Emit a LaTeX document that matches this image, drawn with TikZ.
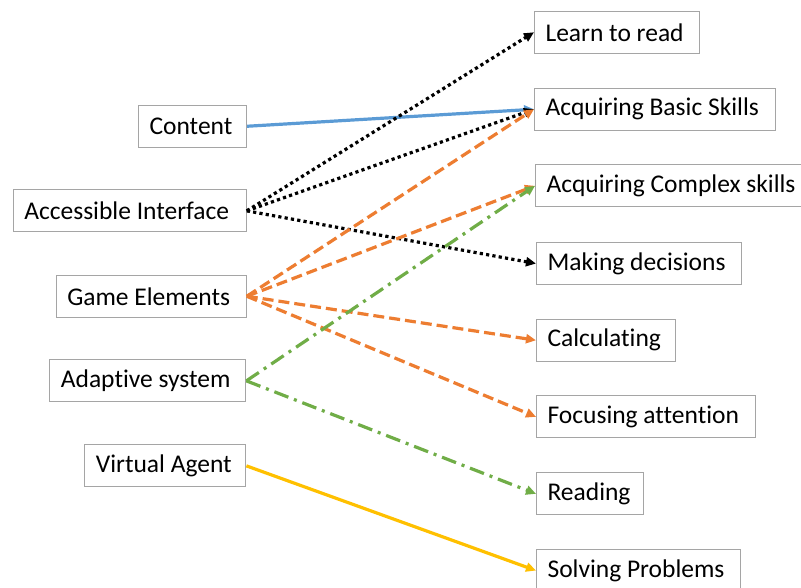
\documentclass[tikz,border=0pt]{standalone}
\usepackage{fontspec}
\setmainfont{Carlito}[RawFeature={-liga;-calt;-dlig}]
\usetikzlibrary{arrows.meta}
\definecolor{boxgray}{RGB}{165,165,165}
\definecolor{cblue}{RGB}{91,155,213}
\definecolor{corange}{RGB}{237,125,49}
\definecolor{cgreen}{RGB}{112,173,71}
\definecolor{cgold}{RGB}{255,192,0}
\newcommand{\lbx}[2]{\makebox[#1][l]{\raisebox{-1pt}{#2}}}
\newcommand{\nl}{\kern0pt}
\begin{document}
\begin{tikzpicture}[x=1pt,y=-1pt,
  boxnode/.style={draw=boxgray, line width=1.1pt, fill=white, anchor=north west,
    inner xsep=11pt, inner ysep=0pt, minimum height=42pt,
    font=\fontsize{25.5}{30}\selectfont},
  conn/.style={line width=3.2pt, -{Triangle[length=10pt,width=9pt]}},
  dotline/.style={conn, black, dash pattern=on 3.2pt off 3.2pt},
  dashline/.style={conn, corange, dash pattern=on 11pt off 5pt},
  dashdotline/.style={conn, cgreen, dash pattern=on 15pt off 6pt on 3pt off 6pt}]
\useasboundingbox (0,0) rectangle (801,587);
% left boxes
\node[boxnode] (content) at (138,104.7) {\lbx{86pt}{Content}};
\node[boxnode] (access) at (12.7,189.3) {\lbx{211pt}{Accessible Interface}};
\node[boxnode] (game) at (55.7,274.7) {\lbx{168pt}{Game Elements}};
\node[boxnode] (adapt) at (49.3,359.3) {\lbx{174pt}{Adaptive system}};
\node[boxnode] (agent) at (84.3,444.3) {\lbx{139pt}{Virtual Agent}};
% right boxes
\node[boxnode] (learn) at (534,10.7) {\lbx{143pt}{Learn to read}};
\node[boxnode] (basic) at (534,87.7) {\lbx{219pt}{Acquiring Basic Skills}};
\node[boxnode] (complex) at (535,164.3) {\lbx{253pt}{Acquiring Complex skills}};
\node[boxnode] (decide) at (536,242) {\lbx{183pt}{Making decisions}};
\node[boxnode] (calc) at (536,318.7) {\lbx{117pt}{Calculat\nl ing}};
\node[boxnode] (focus) at (536,395.3) {\lbx{197pt}{Focusing attent\nl ion}};
\node[boxnode] (reading) at (536,472.3) {\lbx{85pt}{Reading}};
\node[boxnode] (solve) at (536,549) {\lbx{182pt}{Solving Problems}};
% connectors
\draw[conn, cblue] (content.east) -- (basic.west);
\draw[dotline] (access.east) -- (learn.west);
\draw[dotline] (access.east) -- (basic.west);
\draw[dotline] (access.east) -- (decide.west);
\draw[dashline] (game.east) -- (basic.west);
\draw[dashline] (game.east) -- (complex.west);
\draw[dashline] (game.east) -- (calc.west);
\draw[dashline] (game.east) -- (focus.west);
\draw[dashdotline] (adapt.east) -- (complex.west);
\draw[dashdotline] (adapt.east) -- (reading.west);
\draw[conn, cgold] (agent.east) -- (solve.west);
\end{tikzpicture}
\end{document}
